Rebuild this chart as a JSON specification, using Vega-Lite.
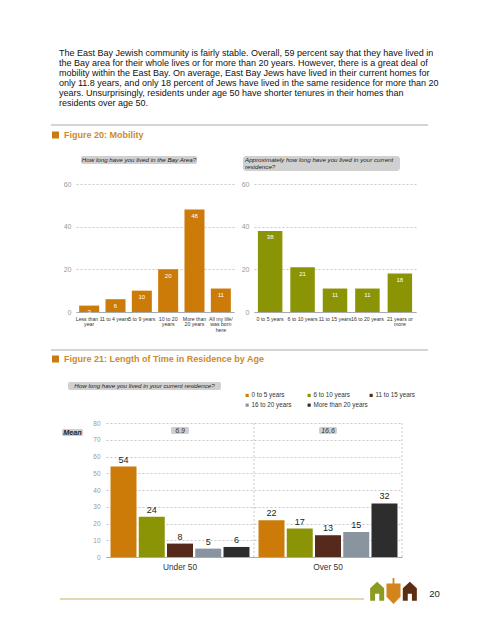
{
  "$schema": "https://vega.github.io/schema/vega-lite/v6.json",
  "background": "white",
  "padding": {"left": 50, "top": 48, "right": 0, "bottom": 0},
  "config": {
    "font": "Liberation Sans",
    "view": {"stroke": null},
    "concat": {"spacing": 0}
  },
  "datasets": {
    "bayArea": [
      {"answer": "Less than 1|year", "pct": 3},
      {"answer": "1 to 4 years", "pct": 6},
      {"answer": "5 to 9 years", "pct": 10},
      {"answer": "10 to 20|years", "pct": 20},
      {"answer": "More than|20 years", "pct": 48},
      {"answer": "All my life/|was born|here", "pct": 11}
    ],
    "residence": [
      {"answer": "0 to 5 years", "pct": 38},
      {"answer": "6 to 10 years", "pct": 21},
      {"answer": "11 to 15 years", "pct": 11},
      {"answer": "16 to 20 years", "pct": 11},
      {"answer": "21 years or|more", "pct": 18}
    ],
    "byAge": [
      {"age": "Under 50", "period": "0 to 5 years", "pct": 54},
      {"age": "Under 50", "period": "6 to 10 years", "pct": 24},
      {"age": "Under 50", "period": "11 to 15 years", "pct": 8},
      {"age": "Under 50", "period": "16 to 20 years", "pct": 5},
      {"age": "Under 50", "period": "More than 20 years", "pct": 6},
      {"age": "Over 50", "period": "0 to 5 years", "pct": 22},
      {"age": "Over 50", "period": "6 to 10 years", "pct": 17},
      {"age": "Over 50", "period": "11 to 15 years", "pct": 13},
      {"age": "Over 50", "period": "16 to 20 years", "pct": 15},
      {"age": "Over 50", "period": "More than 20 years", "pct": 32}
    ],
    "means": [
      {"age": "Under 50", "mean": 6.9},
      {"age": "Over 50", "mean": 16.6}
    ],
    "icons": [
      {"icon": "house 1"},
      {"icon": "dreidel"},
      {"icon": "house 2"}
    ]
  },
  "resolve": {"scale": {"color": "independent", "shape": "independent"}, "legend": {"color": "independent", "shape": "independent"}},
  "spacing": 0,
  "vconcat": [
    {
      "width": 377, "height": 3,
      "data": {"values": [{}]},
      "mark": {"type": "rule", "color": "#aaaaaa", "strokeWidth": 1},
      "encoding": {"y": {"value": 0}},
      "title": {
        "text": [
          "The East Bay Jewish community is fairly stable.  Overall, 59 percent say that they have lived in",
          "the Bay area for their whole lives or for more than 20 years.  However, there is a great deal of",
          "mobility within the East Bay.  On average, East Bay Jews have lived in their current homes for",
          "only 11.8 years, and only 18 percent of Jews have lived in the same residence for more than 20",
          "years.  Unsurprisingly, residents under age 50 have shorter tenures in their homes than",
          "residents over age 50."
        ],
        "orient": "top", "anchor": "start", "frame": "group",
        "fontSize": 9, "fontWeight": "normal", "color": "#111",
        "lineHeight": 10, "offset": 17, "dx": 8
      }
    },
    {
      "width": 9, "height": 14,
      "data": {"values": [{}]},
      "layer": [
        {"mark": {"type": "point", "shape": "square", "size": 49, "filled": true, "opacity": 1, "color": "#C97A12"}, "encoding": {}},
        {"mark": {"type": "text", "text": "Figure 20: Mobility", "align": "left", "baseline": "middle", "dx": 8.5, "fontSize": 9, "fontWeight": "bold", "color": "#CC8A2A"}, "encoding": {}}
      ]
    },
    {"width": 1, "height": 14, "data": {"values": []}, "mark": "point"},
    {
      "spacing": 0,
      "hconcat": [
        {"width": 30, "height": 24, "data": {"values": []}, "mark": "point"},
        {
          "width": 116, "height": 8,
          "data": {"values": [{}]},
          "view": {"fill": "#d0d0d0", "cornerRadius": 2},
          "mark": {"type": "text", "text": "How long have you lived in the Bay Area?", "fontSize": 6.2, "fontStyle": "italic", "color": "#222", "baseline": "middle"},
          "encoding": {}
        },
        {"width": 46, "height": 1, "data": {"values": []}, "mark": "point"},
        {
          "width": 157, "height": 15,
          "data": {"values": [{}]},
          "view": {"fill": "#d0d0d0", "cornerRadius": 3},
          "mark": {"type": "text", "text": ["Approximately how long have you lived in your current", "residence?"], "fontSize": 6.2, "fontStyle": "italic", "color": "#222", "align": "left", "baseline": "middle", "lineHeight": 7.3, "dy": -3.65},
          "encoding": {"x": {"value": 2}}
        }
      ]
    },
    {
      "spacing": 0,
      "hconcat": [
        {"width": 12, "height": 165, "data": {"values": []}, "mark": "point"},
        {
          "width": 158, "height": 128,
          "data": {"name": "bayArea"},
          "encoding": {
            "x": {"field": "answer", "type": "nominal", "sort": null,
                  "scale": {"paddingInner": 0.24, "paddingOuter": 0.12},
                  "axis": {"title": null, "labelExpr": "split(datum.label, '|')", "labelAngle": 0, "labelFontSize": 5.2, "labelLineHeight": 5.6, "labelColor": "#333", "labelPadding": 4, "ticks": false, "domainColor": "#aaaaaa", "labelOverlap": false, "labelBound": false}},
            "y": {"field": "pct", "type": "quantitative",
                  "scale": {"domain": [0, 60], "nice": false},
                  "axis": {"title": null, "tickCount": 3, "labelFontSize": 7, "labelColor": "#999", "labelPadding": 5, "ticks": false, "domain": false, "gridDash": [2, 2], "gridColor": "#c8c8c8"}}
          },
          "layer": [
            {"mark": {"type": "bar", "color": "#CC7A08"}},
            {"mark": {"type": "text", "baseline": "top", "dy": 3.5, "fontSize": 6, "color": "white"}, "encoding": {"text": {"field": "pct"}}}
          ]
        },
        {"width": 7, "height": 1, "data": {"values": []}, "mark": "point"},
        {
          "width": 162, "height": 128,
          "data": {"name": "residence"},
          "encoding": {
            "x": {"field": "answer", "type": "nominal", "sort": null,
                  "scale": {"paddingInner": 0.245, "paddingOuter": 0.12},
                  "axis": {"title": null, "labelExpr": "split(datum.label, '|')", "labelAngle": 0, "labelFontSize": 5.2, "labelLineHeight": 5.6, "labelColor": "#333", "labelPadding": 4, "ticks": false, "domainColor": "#aaaaaa", "labelOverlap": false, "labelBound": false}},
            "y": {"field": "pct", "type": "quantitative",
                  "scale": {"domain": [0, 60], "nice": false},
                  "axis": {"title": null, "tickCount": 3, "labelFontSize": 7, "labelColor": "#999", "labelPadding": 5, "ticks": false, "domain": false, "gridDash": [2, 2], "gridColor": "#c8c8c8"}}
          },
          "layer": [
            {"mark": {"type": "bar", "color": "#8B9405"}},
            {"mark": {"type": "text", "baseline": "top", "dy": 3.5, "fontSize": 6, "color": "white"}, "encoding": {"text": {"field": "pct"}}}
          ]
        }
      ]
    },
    {
      "width": 377, "height": 2,
      "data": {"values": [{}]},
      "mark": {"type": "rule", "color": "#aaaaaa", "strokeWidth": 1},
      "encoding": {"y": {"value": 0}}
    },
    {
      "width": 9, "height": 14,
      "data": {"values": [{}]},
      "layer": [
        {"mark": {"type": "point", "shape": "square", "size": 49, "filled": true, "opacity": 1, "color": "#C97A12"}, "encoding": {}},
        {"mark": {"type": "text", "text": "Figure 21: Length of Time in Residence by Age", "align": "left", "baseline": "middle", "dx": 8.5, "fontSize": 9, "fontWeight": "bold", "color": "#CC8A2A"}, "encoding": {}}
      ]
    },
    {"width": 1, "height": 16, "data": {"values": []}, "mark": "point"},
    {
      "spacing": 0,
      "hconcat": [
        {"width": 17, "height": 10, "data": {"values": []}, "mark": "point"},
        {
          "width": 153, "height": 8,
          "data": {"values": [{}]},
          "view": {"fill": "#d0d0d0", "cornerRadius": 2},
          "mark": {"type": "text", "text": "How long have you lived in your current residence?", "fontSize": 6.2, "fontStyle": "italic", "color": "#222", "baseline": "middle"},
          "encoding": {}
        }
      ]
    },
    {
      "spacing": 0,
      "resolve": {"scale": {"color": "independent"}, "legend": {"color": "independent"}},
      "hconcat": [
        {"width": 11, "height": 155, "data": {"values": []}, "mark": "point"},
        {
          "spacing": 0,
          "vconcat": [
            {"width": 21, "height": 5, "data": {"values": []}, "mark": "point"},
            {
              "width": 21, "height": 7,
              "data": {"values": [{}]},
              "view": {"fill": "#cfcfcf", "cornerRadius": 1.5},
              "mark": {"type": "text", "text": "Mean", "fontSize": 7.2, "fontStyle": "italic", "fontWeight": "bold", "color": "#222", "baseline": "middle"},
              "encoding": {}
            }
          ]
        },
        {"width": 9, "height": 1, "data": {"values": []}, "mark": "point"},
        {
          "width": 296, "height": 134,
          "encoding": {
            "x": {"field": "age", "type": "nominal", "sort": ["Under 50", "Over 50"],
                  "scale": {"paddingInner": 0, "paddingOuter": 0},
                  "axis": {"title": null, "labelAngle": 0, "labelFontSize": 8.3, "labelColor": "#333", "labelPadding": 5, "ticks": false, "domainColor": "#aaaaaa", "grid": false}}
          },
          "layer": [
            {
              "data": {"name": "means"},
              "mark": {"type": "rule", "strokeDash": [2, 2], "color": "#c8c8c8"},
              "encoding": {"x": {"field": "age", "type": "nominal", "sort": ["Under 50", "Over 50"], "bandPosition": 1}}
            },
            {
              "data": {"name": "byAge"},
              "mark": {"type": "bar"},
              "encoding": {
                "xOffset": {"field": "period", "type": "nominal", "sort": ["0 to 5 years", "6 to 10 years", "11 to 15 years", "16 to 20 years", "More than 20 years"], "scale": {"paddingInner": 0.08, "paddingOuter": 0.16}},
                "y": {"field": "pct", "type": "quantitative", "scale": {"domain": [0, 80], "nice": false},
                      "axis": {"title": null, "tickCount": 8, "labelFontSize": 6.5, "labelColor": "#999", "labelPadding": 6, "ticks": false, "domain": false, "gridDash": [2, 2], "gridColor": "#c8c8c8"}},
                "color": {"field": "period", "type": "nominal",
                          "scale": {"domain": ["0 to 5 years", "6 to 10 years", "11 to 15 years", "16 to 20 years", "More than 20 years"], "range": ["#CC7A08", "#8B9405", "#55291C", "#8994A0", "#2D2D2D"]},
                          "legend": {"title": null, "orient": "none", "legendX": 138, "legendY": -31, "direction": "horizontal", "columns": 3, "gridAlign": "all", "columnPadding": 0, "rowPadding": 3, "symbolType": "square", "symbolSize": 10, "symbolStrokeWidth": 0, "labelFontSize": 6.3, "labelColor": "#333", "labelOffset": 1.2, "padding": 0}}
              }
            },
            {
              "data": {"name": "byAge"},
              "mark": {"type": "text", "baseline": "bottom", "dy": -2, "fontSize": 9, "color": "#222"},
              "encoding": {
                "xOffset": {"field": "period", "type": "nominal", "sort": ["0 to 5 years", "6 to 10 years", "11 to 15 years", "16 to 20 years", "More than 20 years"]},
                "y": {"field": "pct", "type": "quantitative"},
                "text": {"field": "pct"}
              }
            },
            {
              "data": {"name": "means"},
              "mark": {"type": "bar", "width": 18, "color": "#cfcfcf", "cornerRadius": 1.5},
              "encoding": {"y": {"datum": 73.4, "type": "quantitative"}, "y2": {"datum": 77.6}}
            },
            {
              "data": {"name": "means"},
              "mark": {"type": "text", "baseline": "middle", "fontSize": 7, "fontStyle": "italic", "color": "#333"},
              "encoding": {"y": {"datum": 75, "type": "quantitative"}, "text": {"field": "mean"}}
            }
          ]
        }
      ]
    },
    {
      "spacing": 0,
      "resolve": {"scale": {"color": "independent", "shape": "independent"}, "legend": {"color": "independent", "shape": "independent"}},
      "hconcat": [
        {"width": 8, "height": 1, "data": {"values": []}, "mark": "point"},
        {
          "width": 304, "height": 21,
          "data": {"values": [{}]},
          "mark": {"type": "rule", "color": "#dcc89c", "strokeWidth": 1.5},
          "encoding": {"y": {"datum": 0, "type": "quantitative", "scale": {"domain": [0, 1]}, "axis": null}}
        },
        {"width": 4, "height": 1, "data": {"values": []}, "mark": "point"},
        {
          "width": 49, "height": 26,
          "data": {"name": "icons"},
          "mark": {"type": "point", "filled": true, "opacity": 1, "size": 676, "strokeWidth": 0},
          "encoding": {
            "x": {"field": "icon", "type": "nominal", "sort": null, "scale": {"type": "point", "padding": 0.5}, "axis": null},
            "shape": {"field": "icon", "type": "nominal", "legend": null,
                      "scale": {"domain": ["house 1", "dreidel", "house 2"],
                                "range": ["M-0.54,0.75L-0.54,-0.22L0,-0.72L0.54,-0.22L0.54,0.75L0.16,0.75L0.16,0.22L-0.16,0.22L-0.16,0.75Z",
                                          "M-0.07,-1L0.07,-1L0.07,-0.58L0.54,-0.58L0.54,0.44L0,1L-0.54,0.44L-0.54,-0.58L-0.07,-0.58Z",
                                          "M-0.54,0.75L-0.54,-0.22L0,-0.72L0.54,-0.22L0.54,0.75L0.16,0.75L0.16,0.22L-0.16,0.22L-0.16,0.75Z"]}},
            "color": {"field": "icon", "type": "nominal", "legend": null,
                      "scale": {"domain": ["house 1", "dreidel", "house 2"], "range": ["#8D9A22", "#D4841C", "#5B2E12"]}}
          }
        },
        {"width": 11, "height": 1, "data": {"values": []}, "mark": "point"},
        {
          "width": 11, "height": 26,
          "data": {"values": [{}]},
          "mark": {"type": "text", "text": "20", "baseline": "middle", "dy": 3, "fontSize": 9.6, "color": "#222"},
          "encoding": {}
        }
      ]
    }
  ]
}
